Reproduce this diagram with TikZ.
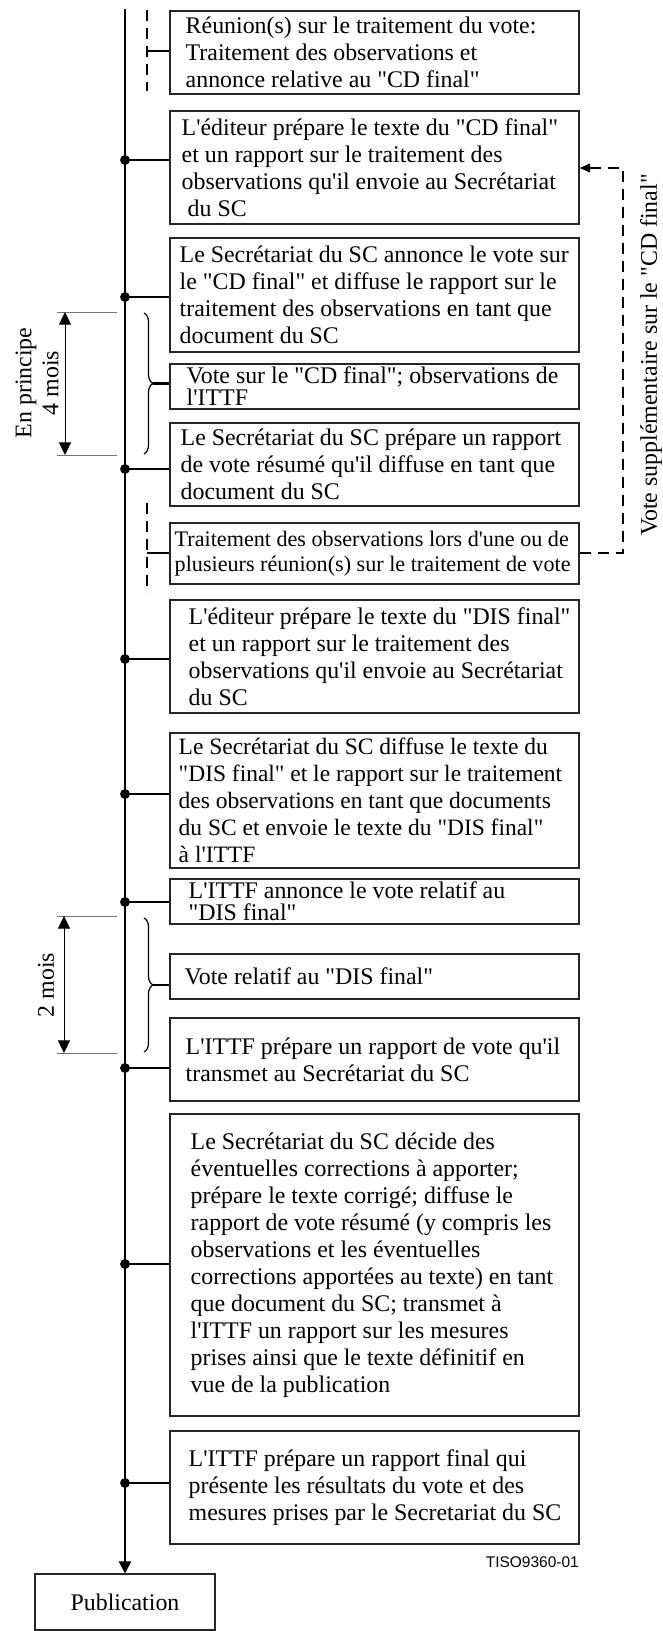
\documentclass[tikz,border=0pt]{standalone}
\usepackage{fontspec}
\newfontfamily\tnr{Liberation Serif}
\newfontfamily\arl{Liberation Sans}
\usetikzlibrary{arrows.meta,decorations.pathreplacing}
\tikzset{
 box/.style={draw=black!85, line width=0.8pt, minimum width=306.75pt, inner sep=0pt},
 txt/.style={font=\tnr\fontsize{17.9}{20.25}\selectfont, inner sep=0pt, align=left},
 tight/.style={font=\tnr\fontsize{17.9}{16.5}\selectfont},
 mid/.style={font=\tnr\fontsize{16.6}{18.75}\selectfont},
 nar/.style={font=\tnr\fontsize{17.6}{20.25}\selectfont},
 mainl/.style={line width=1.6pt},
 conn/.style={line width=1.6pt},
 dsh/.style={line width=1.3pt, dash pattern=on 8.25pt off 5.25pt},
 ext/.style={draw=black!55, line width=0.75pt},
 dimarr/.style={line width=0.75pt, {Triangle[length=9.5pt,width=9pt]}-{Triangle[length=9.5pt,width=9pt]}},
 brc/.style={decorate, decoration={brace, amplitude=6.75pt}, line width=0.9pt},
}
\newcommand\mkbox[6][]{%
  \pgfmathsetmacro\bh{(#4-#3)*0.75}%
  \pgfmathsetmacro\bm{(#3+#4)/2}%
  \node[box, minimum height=\bh pt] (#2) at (374.5,\bm) {};
  \node[txt,#1,anchor=west] (#2t) at ([xshift=#5*0.75pt]#2.west) {#6};
}
\begin{document}
\begin{tikzpicture}[x=0.75pt, y=-0.75pt]
\useasboundingbox (0,0) rectangle (663,1631);

% boxes
\mkbox{b1}{11}{94}{16}{Réunion(s) sur le traitement du vote:\\Traitement des observations et\\annonce relative au "CD final"}
\mkbox{b2}{111}{224}{12}{L'éditeur prépare le texte du "CD final"\\et un rapport sur le traitement des\\observations qu'il envoie au Secrétariat\\\hspace*{0.25em}du SC}
\mkbox{b3}{238}{352}{10}{Le Secrétariat du SC annonce le vote sur\\le "CD final" et diffuse le rapport sur le\\traitement des observations en tant que\\document du SC}
\mkbox[tight]{b4}{364}{409}{17}{Vote sur le "CD final"; observations de\\l'ITTF}
\mkbox{b5}{423}{506}{11}{Le Secrétariat du SC prépare un rapport\\de vote résumé qu'il diffuse en tant que\\document du SC}
\mkbox[mid]{b6}{523}{584}{5}{Traitement des observations lors d'une ou de\\plusieurs réunion(s) sur le traitement de vote}
\mkbox{b7}{600}{713}{19}{L'éditeur prépare le texte du "DIS final"\\et un rapport sur le traitement des\\observations qu'il envoie au Secrétariat\\du SC}
\mkbox[nar]{b8}{733}{868}{9}{Le Secrétariat du SC diffuse le texte du\\"DIS final" et le rapport sur le traitement\\des observations en tant que documents\\du SC et envoie le texte du "DIS final"\\à l'ITTF}
\mkbox[tight]{b9}{879}{924}{19}{L'ITTF annonce le vote relatif au\\"DIS final"}
\mkbox{b10}{954}{999}{15}{Vote relatif au "DIS final"}
\mkbox{b11}{1018}{1101}{16}{L'ITTF prépare un rapport de vote qu'il\\transmet au Secrétariat du SC}
\mkbox{b12}{1114}{1416}{21}{Le Secrétariat du SC décide des\\éventuelles corrections à apporter;\\prépare le texte corrigé; diffuse le\\rapport de vote résumé (y compris les\\observations et les éventuelles\\corrections apportées au texte) en tant\\que document du SC; transmet à\\l'ITTF un rapport sur les mesures\\prises ainsi que le texte définitif en\\vue de la publication}
\mkbox{b13}{1431}{1544}{19}{L'ITTF prépare un rapport final qui\\présente les résultats du vote et des\\mesures prises par le Secretariat du SC}

\node[draw=black!85, line width=0.8pt, minimum width=135pt, minimum height=42pt, inner sep=0pt,
      font=\tnr\fontsize{17.9}{20.25}\selectfont] (pub) at (125,1602) {Publication};
\node[anchor=east, inner sep=0pt, font=\arl\fontsize{11.6}{13}\selectfont] (tiso) at (579,1562) {TISO9360-01};

% main timeline
\coordinate (top) at (125,9);
\draw[mainl,-{Triangle[length=9pt,width=9pt]}] (top) -- (pub.north);

% dots and connectors
\foreach \n/\y in {b2/160, b3/297, b5/469, b7/659, b8/794, b9/902, b11/1068, b12/1264, b13/1483}{
  \coordinate (d\n) at (125,\y);
  \fill (d\n) circle[radius=3.7pt];
  \draw[conn] (d\n) -- (d\n -| \n.west);
}

% left dashed meetings
\coordinate (m1a) at (147,10);
\coordinate (m1b) at (147,91);
\coordinate (m1c) at (147,51);
\draw[dsh] (m1a) -- (m1b);
\draw[conn] (m1c) -- (m1c -| b1.west);
\coordinate (m2a) at (147,503);
\coordinate (m2b) at (147,593);
\coordinate (m2c) at (147,553);
\draw[dsh] (m2a) -- (m2b);
\draw[conn] (m2c) -- (m2c -| b6.west);

% right dashed feedback loop
\coordinate (r1) at (623,553);
\coordinate (r2) at (623,168);
\draw[dsh,-{Triangle[length=8pt,width=6.5pt]}] (r1 -| b6.east) -- (r1) -- (r2) -- (r2 -| b2.east);
\node[txt, rotate=90] (vlab) at (651,355) {Vote supplémentaire sur le "CD final"};

% dimension 4 mois
\coordinate (e1a) at (57,312); \coordinate (e1b) at (117,312);
\coordinate (e2a) at (57,455); \coordinate (e2b) at (117,455);
\draw[ext] (e1a) -- (e1b);
\draw[ext] (e2a) -- (e2b);
\draw[dimarr] (e1a -| 65,0) -- (e2a -| 65,0);
\node[txt, align=center, rotate=90] (dim1) at (37,383) {En principe\\4 mois};

% dimension 2 mois
\coordinate (e3a) at (57,916); \coordinate (e3b) at (117,916);
\coordinate (e4a) at (57,1053); \coordinate (e4b) at (117,1053);
\draw[ext] (e3a) -- (e3b);
\draw[ext] (e4a) -- (e4b);
\draw[dimarr] (e3a -| 64,0) -- (e4a -| 64,0);
\node[txt, rotate=90] (dim2) at (46,985) {2 mois};

% braces
\coordinate (br1a) at (144,313); \coordinate (br1b) at (144,454);
\draw[brc] (br1a) -- (br1b);
\coordinate (bt1) at (153,383.5);
\draw[conn] (bt1) -- (bt1 -| b4.west);
\coordinate (br2a) at (144,918); \coordinate (br2b) at (144,1052);
\draw[brc] (br2a) -- (br2b);
\coordinate (bt2) at (153,985);
\draw[conn] (bt2) -- (bt2 -| b10.west);
\end{tikzpicture}
\end{document}
